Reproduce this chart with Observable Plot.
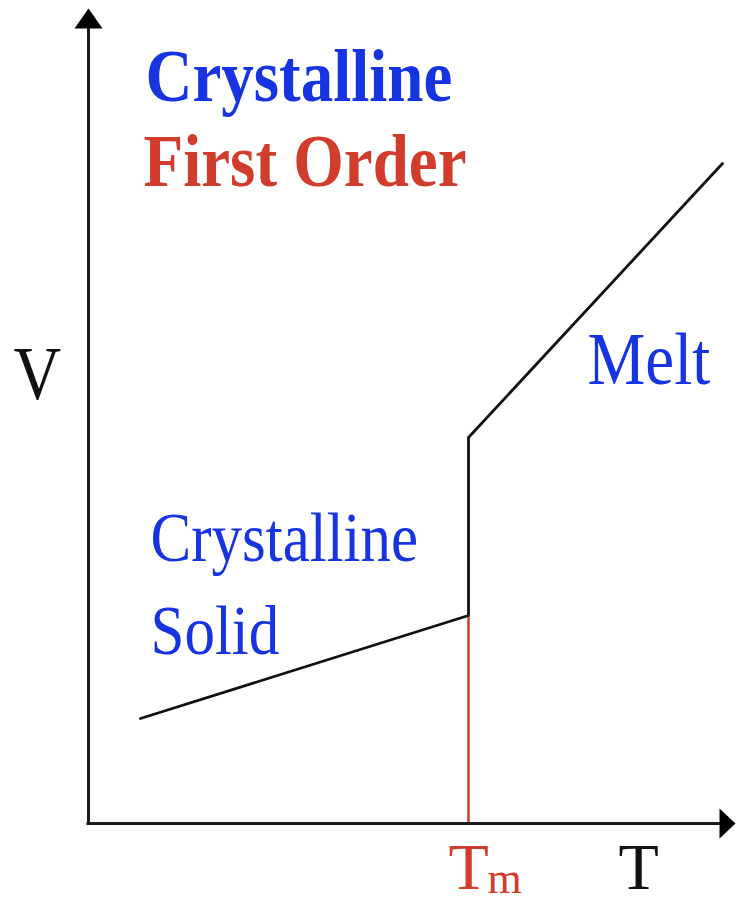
<!DOCTYPE html>
<html><head><meta charset="utf-8">
<script src="https://cdn.jsdelivr.net/npm/d3@7"></script>
<script src="https://cdn.jsdelivr.net/npm/@observablehq/plot@0.6"></script>
<style>body{margin:0;background:#fff}</style>
</head><body><div id="chart"></div>
<script>
// Volume (V) vs temperature (T), schematic first-order (crystalline) transition
const curveT = [1.04, 7.6, 7.6, 12.68];
const curveV = [2.1, 4.16, 7.72, 13.2];
const meltT = 7.6;          // Tm
const solidVatTm = 4.16;    // V of solid at Tm
const axisTmax = 12.94;
const axisVmax = 16.3;

// annotation texts with anchors in data units
const titleLabels = ["Crystalline", "First Order"];
const titleT = [1.14, 1.1];
const titleV = [14.46, 12.76];
const regionLabels = ["Melt", "Crystalline", "Solid"];
const regionT = [9.98, 1.24, 1.24];
const regionV = [8.8, 5.26, 3.4];
const axisLabels = ["V"];
const axisLabelT = [-1.5];
const axisLabelV = [8.5];
const bottomLabels = ["T"];
const bottomLabelT = [10.6];
const bottomLabelV = [-1.3];

const curve = curveT.map((t, i) => ({T: t, V: curveV[i]}));
const titles = titleLabels.map((s, i) => ({s, T: titleT[i], V: titleV[i]}));
const regions = regionLabels.map((s, i) => ({s, T: regionT[i], V: regionV[i]}));
const axesL = axisLabels.map((s, i) => ({s, T: axisLabelT[i], V: axisLabelV[i]}));
const bottomL = bottomLabels.map((s, i) => ({s, T: bottomLabelT[i], V: bottomLabelV[i]}));

const blue = "#1634e0", red = "#d23c2d", ink = "#1a1a1a";
const upHead = {draw(c){c.moveTo(0,0);c.lineTo(-14,20);c.lineTo(14,20);c.closePath();}};
const rightHead = {draw(c){c.moveTo(0,0);c.lineTo(-16,-15);c.lineTo(-16,15);c.closePath();}};
const font = "Liberation Serif, Times New Roman, serif";

const chart = Plot.plot({
  width: 738, height: 904, margin: 0,
  x: {domain: [0, 13], range: [88, 738], axis: null},
  y: {domain: [0, 16.46], range: [823, 0], axis: null},
  style: {background: "#fff", overflow: "visible"},
  marks: [
    Plot.ruleX([meltT], {y1: 0, y2: solidVatTm, stroke: red, strokeWidth: 2.5}),
    Plot.line(curve, {x: "T", y: "V", stroke: "#111", strokeWidth: 2.8, strokeLinejoin: "miter"}),
    Plot.ruleX([0], {y1: -0.03, y2: axisVmax - 0.3, stroke: ink, strokeWidth: 3}),
    Plot.ruleY([0], {x1: -0.03, x2: axisTmax - 0.25, stroke: ink, strokeWidth: 3.2}),
    Plot.dot([{T: 0, V: axisVmax}], {x: "T", y: "V", symbol: upHead, fill: "#000", stroke: "none"}),
    Plot.dot([{T: axisTmax, V: 0}], {x: "T", y: "V", symbol: rightHead, fill: "#000", stroke: "none"}),
    Plot.text(titles.slice(0,1), {x: "T", y: "V", text: "s", fill: blue, fontWeight: "bold", fontSize: 65, fontFamily: font, textAnchor: "start", lineAnchor: "bottom"}),
    Plot.text(titles.slice(1), {x: "T", y: "V", text: "s", fill: red, fontWeight: "bold", fontSize: 65, fontFamily: font, textAnchor: "start", lineAnchor: "bottom"}),
    Plot.text(regions.slice(0,1), {x: "T", y: "V", text: "s", fill: blue, fontSize: 65, fontFamily: font, textAnchor: "start", lineAnchor: "bottom"}),
    Plot.text(regions.slice(1), {x: "T", y: "V", text: "s", fill: blue, fontSize: 61, fontFamily: font, textAnchor: "start", lineAnchor: "bottom"}),
    Plot.text(axesL, {x: "T", y: "V", text: "s", fill: "#111", fontSize: 66, fontFamily: font, textAnchor: "start", lineAnchor: "bottom"}),
    Plot.text(bottomL, {x: "T", y: "V", text: "s", fill: "#111", fontSize: 66, fontFamily: font, textAnchor: "start", lineAnchor: "bottom"}),
    Plot.text([{s: "T", T: meltT - 0.4, V: -1.3}], {x: "T", y: "V", text: "s", fill: red, fontSize: 66, fontFamily: font, textAnchor: "start", lineAnchor: "bottom"}),
    Plot.text([{s: "m", T: meltT + 0.38, V: -1.38}], {x: "T", y: "V", text: "s", fill: red, fontSize: 44, fontFamily: font, textAnchor: "start", lineAnchor: "bottom"})
  ]
});
document.getElementById("chart").appendChild(chart);

// taller glyphs like the original bitmap serif (labels above the x axis only)
chart.querySelectorAll("text").forEach(t => {
  const tr = t.getAttribute("transform") || "";
  const m = tr.match(/translate\(\s*([-\d.]+)[ ,]+([-\d.]+)/);
  const y = m ? +m[2] : +(t.getAttribute("y") || 0);
  if (y > 830) return;
  const sy = 1.14;
  if (m) t.setAttribute("transform", tr + ` scale(1,${sy})`);
  else t.setAttribute("transform", `translate(0,${y}) scale(1,${sy}) translate(0,${-y})`);
});
</script>
</body></html>
